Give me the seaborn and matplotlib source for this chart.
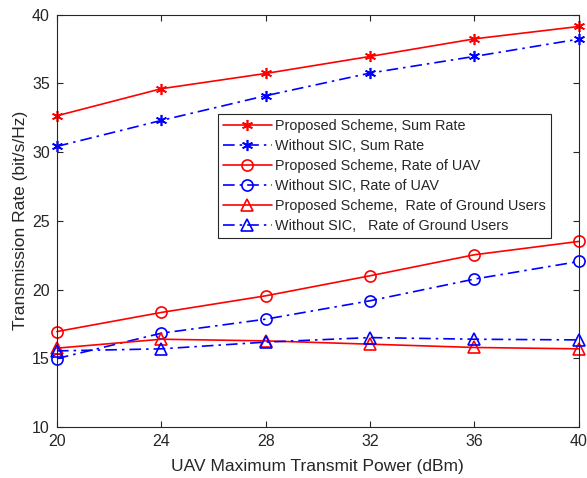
import matplotlib
matplotlib.use("Agg")
import matplotlib.pyplot as plt
import seaborn as sns
import pandas as pd

power_dbm = [20, 24, 28, 32, 36, 40]
prop_sum = [32.65, 34.62, 35.73, 36.97, 38.25, 39.15]
nosic_sum = [30.42, 32.31, 34.11, 35.76, 36.97, 38.23]
prop_uav = [16.94, 18.33, 19.54, 21.0, 22.53, 23.5]
nosic_uav = [14.97, 16.82, 17.84, 19.18, 20.76, 22.04]
prop_ground = [15.73, 16.38, 16.26, 16.02, 15.78, 15.68]
nosic_ground = [15.53, 15.68, 16.17, 16.5, 16.38, 16.33]

labels = [
    "Proposed Scheme, Sum Rate",
    "Without SIC, Sum Rate",
    "Proposed Scheme, Rate of UAV",
    "Without SIC, Rate of UAV",
    "Proposed Scheme,  Rate of Ground Users",
    "Without SIC,   Rate of Ground Users",
]
series = [prop_sum, nosic_sum, prop_uav, nosic_uav, prop_ground, nosic_ground]

sns.set_style("ticks")
plt.rcParams["font.family"] = ["Liberation Sans", "DejaVu Sans"]

fig = plt.figure(figsize=(5.87, 4.78), dpi=100)
ax = fig.add_axes([0.097, 0.107, 0.889, 0.862])

dashdot = (0, (7, 3, 1.5, 3))
asterisk = (6, 2, 0)
styles = [
    dict(color="#ff0000", linestyle="-", marker=asterisk, ms=8),
    dict(color="#0000ff", linestyle=dashdot, marker=asterisk, ms=8),
    dict(color="#ff0000", linestyle="-", marker="o", ms=8),
    dict(color="#0000ff", linestyle=dashdot, marker="o", ms=8),
    dict(color="#ff0000", linestyle="-", marker="^", ms=8.5),
    dict(color="#0000ff", linestyle=dashdot, marker="^", ms=8.5),
]

for vals, lab, st in zip(series, labels, styles):
    df = pd.DataFrame({"x": power_dbm, "y": vals})
    sns.lineplot(data=df, x="x", y="y", ax=ax, label=lab, color=st["color"],
                 linestyle=st["linestyle"], marker=st["marker"], markersize=st["ms"],
                 markerfacecolor="none", markeredgecolor=st["color"],
                 markeredgewidth=1.2, linewidth=1.2, clip_on=False)

ax.set_xlim(20, 40)
ax.set_ylim(10, 40)
ax.set_xticks(power_dbm)
ax.set_yticks([10, 15, 20, 25, 30, 35, 40])
axcol = "#262626"
for sp in ax.spines.values():
    sp.set_visible(True)
    sp.set_color(axcol)
    sp.set_linewidth(0.8)
ax.tick_params(direction="in", top=True, right=True, length=4, width=0.8,
               labelsize=11.5, colors=axcol, labelcolor=axcol, pad=5)
ax.set_xlabel("UAV Maximum Transmit Power (dBm)", fontsize=12.5, color=axcol, labelpad=7)
ax.set_ylabel("Transmission Rate (bit/s/Hz)", fontsize=12.5, color=axcol, labelpad=3)

leg = ax.legend(loc="upper left", bbox_to_anchor=(0.308, 0.76), fontsize=10.4,
                frameon=True, fancybox=False, edgecolor=axcol, framealpha=1,
                handlelength=3.4, handletextpad=0.2, labelspacing=0.42,
                borderpad=0.35, borderaxespad=0)
leg.get_frame().set_linewidth(0.8)

fig.savefig("out.png", dpi=100)
